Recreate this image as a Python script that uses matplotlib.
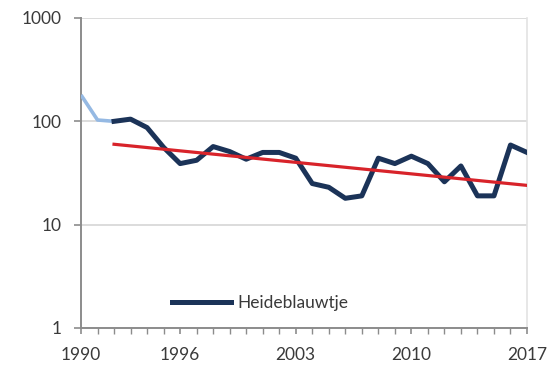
import matplotlib.pyplot as plt
import numpy as np
from matplotlib.ticker import FixedLocator, NullFormatter

# early years (light blue) and main series (dark blue)
early_years = [1990, 1991, 1992]
early_vals = [180, 103, 100]

years = list(range(1992, 2018))
vals = [100, 105, 87, 56, 39, 42, 57, 51, 43, 50, 50, 44, 25, 23, 18, 19,
        44, 39, 46, 39, 26, 37, 19, 19, 59, 50]

# trend line endpoints
trend_years = [1992, 2017]
trend_vals = [60, 24]

xtick_years = [1990, 1996, 2003, 2010, 2017]
ytick_vals = [1, 10, 100, 1000]

plt.rcParams['font.family'] = ['Lato', 'DejaVu Sans']

fig = plt.figure(figsize=(5.51, 3.70), dpi=100)
ax = fig.add_axes([81 / 551, 42 / 370, 446 / 551, 310 / 370])

ax.plot(early_years, early_vals, color='#95b9e3', lw=2.6, solid_capstyle='butt', zorder=3)
ax.plot(years, vals, color='#1b3358', lw=3.6, solid_joinstyle='round', zorder=4,
        label='Heideblauwtje')
ax.plot(trend_years, trend_vals, color='#d8232a', lw=2.3, zorder=5)

ax.set_yscale('log')
ax.set_ylim(1, 1000)
ax.set_xlim(1990, 2017)

ax.yaxis.set_major_locator(FixedLocator(ytick_vals))
ax.yaxis.set_minor_locator(FixedLocator([]))
ax.set_yticklabels([str(v) for v in ytick_vals])
ax.xaxis.set_major_locator(FixedLocator(xtick_years))
ax.set_xticklabels([str(v) for v in xtick_years])
ax.xaxis.set_minor_locator(FixedLocator(list(range(1990, 2018))))
ax.xaxis.set_minor_formatter(NullFormatter())

ax.grid(axis='y', which='major', color='#d9d9d9', lw=1.3)
ax.set_axisbelow(True)

for s in ['left', 'bottom']:
    ax.spines[s].set_color('#8c8c8c')
    ax.spines[s].set_linewidth(1.4)
ax.spines['right'].set_color('#e3e3e3')
ax.spines['right'].set_linewidth(1.2)
ax.spines['top'].set_visible(False)

ax.tick_params(axis='y', which='major', length=5, width=1.2, color='#8c8c8c',
               pad=9, labelsize=12.5, labelcolor='#3a3a3a')
ax.tick_params(axis='x', which='major', length=4, width=1.2, color='#8c8c8c',
               pad=10, labelsize=12.5, labelcolor='#3a3a3a')
ax.tick_params(axis='x', which='minor', length=4, width=1.0, color='#8c8c8c')

leg = ax.legend(loc='lower left', bbox_to_anchor=(0.17, 0.005), frameon=False,
                handlelength=3.4, handletextpad=0.35, fontsize=12.5)
for t in leg.get_texts():
    t.set_color('#3a3a3a')

fig.savefig('out.png', dpi=100)
